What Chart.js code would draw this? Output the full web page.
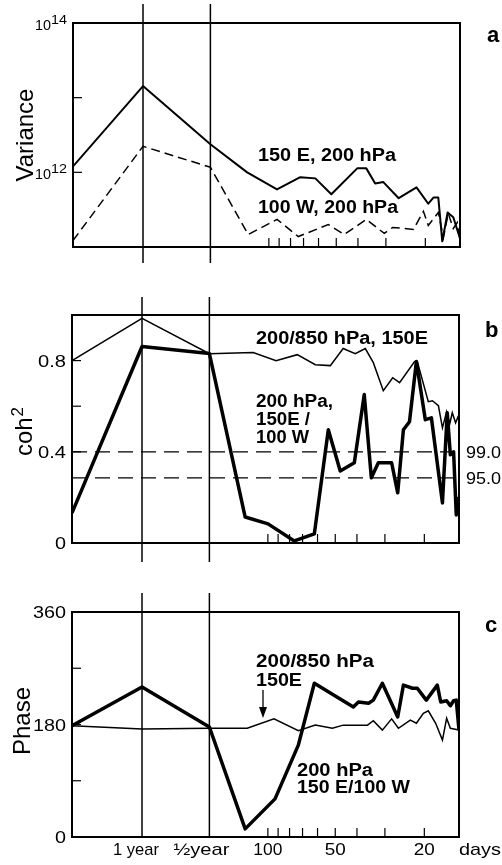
<!DOCTYPE html>
<html>
<head>
<meta charset="utf-8">
<script src="https://cdn.jsdelivr.net/npm/chart.js@4.4.1/dist/chart.umd.min.js"></script>
<style>
html,body{margin:0;padding:0;background:#fff;}
#wrap{position:relative;width:502px;height:865px;overflow:hidden;}
canvas{position:absolute;left:0;}
</style>
</head>
<body>
<div id="wrap">
<canvas id="cA" width="502" height="290" style="top:0"></canvas>
<canvas id="cB" width="502" height="290" style="top:290px"></canvas>
<canvas id="cC" width="502" height="285" style="top:580px"></canvas>
</div>
<script>
/* ===== data: period in days ===== */
// a) variance
const periodVar150E = [750,365,182.5,125,92,72.4,62,52.6,40.3,36.7,33.5,30.8,26.3,21.9,19.4,18.4,17.5,16.8,15.9,15.0,14];
const variance150E  = [1.2e12,1.43e13,2.38e12,1.0e12,5.9e11,8.6e11,8.3e11,5.1e11,1.13e12,1.13e12,7.1e11,7.4e11,4.5e11,6.3e11,3.8e11,4.6e11,4.6e11,1.19e11,2.9e11,2.5e11,1.3e11];
const periodVar100W = [750,365,182.5,123.7,91.9,73.9,54.3,46.1,36.7,30.5,28.0,22.6,20.4,19.4,17.5,16.6,15.8,15.0,14.4,14];
const variance100W  = [1.22e11,2.23e12,1.17e12,1.47e11,2.34e11,1.38e11,2.0e11,1.47e11,2.34e11,1.52e11,1.83e11,1.72e11,3.0e11,1.94e11,2.9e11,1.34e11,2.82e11,1.77e11,2.13e11,1.3e11];

// b) coherence squared
const periodCohVert = [750,365,182.5,116.3,91.9,73.9,61.4,52.6,46.1,40.7,36.7,33.8,30.5,27.7,25.8,22.1,21.5,19.2,18.4,17.3,16.6,15.9,15.4,15.0,14.5,14];
const coh200850     = [0.80,0.985,0.83,0.835,0.80,0.826,0.782,0.778,0.853,0.83,0.853,0.791,0.668,0.725,0.703,0.796,0.796,0.62,0.624,0.602,0.505,0.576,0.523,0.571,0.527,0.563];
const periodCohHor  = [750,365,182.5,126.3,99.8,76.2,62.0,53.7,47.5,41.1,37.1,34.5,32.1,28.0,26.3,24.8,23.3,21.7,19.8,18.6,16.6,15.8,15.3,14.8,14.4,14];
const coh150E100W   = [0.132,0.862,0.831,0.114,0.084,0.009,0.04,0.497,0.316,0.352,0.651,0.286,0.352,0.352,0.22,0.497,0.532,0.796,0.541,0.549,0.176,0.571,0.387,0.40,0.123,0.202];
const sigLevels = [0.4, 0.286];
const sigLabels = ["99.0", "95.0"];

// c) phase (degrees)
const periodPhVert = [750,365,182.5,123.7,93.9,73.1,61.4,51.5,46.1,35.9,33.8,30.8,28.0,26.1,23.1,21.7,20.2,19.2,17.8,16.6,15.9,15.3,14];
const phase200850  = [178,173,174,174,189,170,179,174,179,179,186,171,189,174,187,182,198,202,182,155,190,174,171];
const periodPhHor  = [750,365,182.5,126.3,92.9,73.1,62.0,41.5,39.4,35.5,33.8,30.8,26.3,24.8,22.6,21.5,19.6,17.5,16.9,15.9,15.3,14.8,14.4,14];
const phase150E100W= [178,240,176,13,61,147,246,208,216,214,219,246,192,243,238,238,219,243,216,218,210,218,219,171];

// x axis
const markPeriods = [365, 182.5];               // 1 year, 1/2 year lines
const markLabels  = ["1 year", "\u00bdyear"];
const minorTicks  = [100,90,80,70,60,50,40,30,20];
const dayLabels   = [100, 50, 20];

/* ===== helpers ===== */
const FONT = '"Liberation Sans", Arial, Helvetica, sans-serif';
const pts = (xs, ys) => xs.map((x, i) => ({x, y: ys[i]}));

function txt(ctx, s, x, y, size, bold, align, w) {
 ctx.font = (bold ? "bold " : "") + size + "px " + FONT;
 ctx.textBaseline = "alphabetic";
 const m = ctx.measureText(s).width;
 const sx = w ? w / m : 1;
 let x0 = x;
 if (align === "right") x0 = x - m * sx;
 if (align === "center") x0 = x - m * sx / 2;
 ctx.save();
 ctx.translate(x0, y);
 ctx.scale(sx, 1);
 ctx.textAlign = "left";
 ctx.fillText(s, 0, 0);
 ctx.restore();
}

function seg(ctx, x1, y1, x2, y2) {
 ctx.beginPath(); ctx.moveTo(x1, y1); ctx.lineTo(x2, y2); ctx.stroke();
}

function vTitle(ctx, s, x, cy, sup) {
 ctx.save();
 ctx.translate(x, cy);
 ctx.rotate(-Math.PI / 2);
 ctx.font = "24px " + FONT;
 const w = ctx.measureText(s).width;
 let sw = 0;
 if (sup) { ctx.font = "17px " + FONT; sw = ctx.measureText(sup).width; }
 ctx.font = "24px " + FONT;
 ctx.textAlign = "left"; ctx.textBaseline = "alphabetic";
 ctx.fillText(s, -(w + sw) / 2, 0);
 if (sup) { ctx.font = "17px " + FONT; ctx.fillText(sup, -(w + sw) / 2 + w + 1, -9); }
 ctx.restore();
}

function deco(cfg) {
 return {
  id: "deco",
  afterDatasetsDraw(chart) {
   const {ctx, chartArea: a, scales: {x, y}} = chart;
   ctx.save();
   ctx.strokeStyle = "#000"; ctx.fillStyle = "#000";
   ctx.lineWidth = 2;
   ctx.strokeRect(a.left, a.top, a.right - a.left, a.bottom - a.top);
   ctx.lineWidth = 1.5;
   markPeriods.forEach(p => {
    const px = x.getPixelForValue(p);
    seg(ctx, px, cfg.vTop, px, cfg.vBottom == null ? a.bottom : cfg.vBottom);
   });
   ctx.lineWidth = 1.2;
   minorTicks.forEach(p => {
    const px = x.getPixelForValue(p);
    seg(ctx, px, a.bottom, px, a.bottom - 9);
   });
   cfg.yTicks.forEach(v => {
    const py = y.getPixelForValue(v);
    seg(ctx, a.left, py, a.left + 9, py);
   });
   cfg.draw(ctx, chart, a, x, y);
   ctx.restore();
  }
 };
}

function makeChart(id, pad, yScale, datasets, cfg) {
 return new Chart(document.getElementById(id), {
  type: "line",
  data: {datasets},
  options: {
   responsive: false, animation: false, devicePixelRatio: 1,
   layout: {padding: pad},
   plugins: {legend: {display: false}, tooltip: {enabled: false}},
   elements: {point: {radius: 0}, line: {tension: 0, borderColor: "#000", fill: false}},
   scales: {
    x: {type: "logarithmic", reverse: true, min: 14, max: 750, display: false},
    y: Object.assign({display: false}, yScale)
   }
  },
  plugins: [deco(cfg)]
 });
}

/* ===== a: variance ===== */
makeChart("cA", {left: 73, right: 42, top: 23, bottom: 43},
 {type: "logarithmic", min: 1e11, max: 1e14},
 [
  {data: pts(periodVar150E, variance150E), borderWidth: 2, borderJoinStyle: "round"},
  {data: pts(periodVar100W, variance100W), borderWidth: 1.5, borderDash: [9, 5]}
 ],
 {
  vTop: 4, vBottom: 263, yTicks: [1e12, 1e13],
  draw(ctx, chart, a, x, y) {
   [[1e14, "14"], [1e12, "12"]].forEach(([v, e]) => {
    const py = y.getPixelForValue(v);
    txt(ctx, "10", 51, py + 7, 15, false, "right", 16);
    txt(ctx, e, 51, py + 1, 12, false, "left", 16);
   });
   vTitle(ctx, "Variance", 33, 135);
   txt(ctx, "150 E, 200 hPa", 258, 161, 18, true, "left", 138);
   txt(ctx, "100 W, 200 hPa", 258, 213, 18, true, "left", 140);
   txt(ctx, "a", 487, 42, 22, true, "left");
  }
 });

/* ===== b: coherence ===== */
makeChart("cB", {left: 72, right: 43, top: 25, bottom: 37},
 {type: "linear", min: 0, max: 1},
 [
  {data: pts(periodCohVert, coh200850), borderWidth: 1.5},
  {data: pts(periodCohHor, coh150E100W), borderWidth: 3.5, borderJoinStyle: "round"},
  ...sigLevels.map(s => ({data: [{x: 750, y: s}, {x: 14, y: s}], borderWidth: 1.3, borderDash: [15, 8]}))
 ],
 {
  vTop: 7, vBottom: 272, yTicks: [0.4, 0.6, 0.8],
  draw(ctx, chart, a, x, y) {
   [[0.8, "0.8", 28], [0.4, "0.4", 28], [0, "0", 11]].forEach(([v, s, w]) => {
    txt(ctx, s, 66, y.getPixelForValue(v) + 6, 17, false, "right", w);
   });
   sigLevels.forEach((s, i) => txt(ctx, sigLabels[i], 466, y.getPixelForValue(s) + 6, 17, false, "left", 35));
   vTitle(ctx, "coh", 32, 142, "2");
   txt(ctx, "200/850 hPa, 150E", 256, 54, 18, true, "left", 172);
   txt(ctx, "200 hPa,", 256, 117, 18, true, "left", 77);
   txt(ctx, "150E /", 256, 135, 18, true, "left", 54);
   txt(ctx, "100 W", 256, 153, 18, true, "left", 53);
   txt(ctx, "b", 485, 47, 22, true, "left");
  }
 });

/* ===== c: phase ===== */
makeChart("cC", {left: 72, right: 43, top: 32, bottom: 28},
 {type: "linear", min: 0, max: 360},
 [
  {data: pts(periodPhVert, phase200850), borderWidth: 1.5},
  {data: pts(periodPhHor, phase150E100W), borderWidth: 3.5, borderJoinStyle: "round"}
 ],
 {
  vTop: 13, vBottom: null, yTicks: [90, 180, 270],
  draw(ctx, chart, a, x, y) {
   [[360, "360", 33], [180, "180", 33], [0, "0", 11]].forEach(([v, s, w]) => {
    txt(ctx, s, 66, y.getPixelForValue(v) + 6, 17, false, "right", w);
   });
   vTitle(ctx, "Phase", 30, 141);
   // bottom axis labels
   const base = 275;
   txt(ctx, markLabels[0], x.getPixelForValue(markPeriods[0]) - 6, base, 17, false, "center", 46);
   txt(ctx, markLabels[1], x.getPixelForValue(markPeriods[1]) - 8, base, 17, false, "center", 56);
   dayLabels.forEach(d => txt(ctx, String(d), x.getPixelForValue(d), base, 17, false, "center", d === 100 ? 29 : 21));
   txt(ctx, "days", 459, base, 17, false, "left", 42);
   // annotations
   txt(ctx, "200/850 hPa", 256, 87, 18, true, "left", 118);
   txt(ctx, "150E", 256, 106, 18, true, "left", 46);
   ctx.lineWidth = 1.3;
   seg(ctx, 263, 110, 263, 130);
   ctx.beginPath(); ctx.moveTo(259, 127); ctx.lineTo(267, 127); ctx.lineTo(263, 138); ctx.closePath(); ctx.fill();
   txt(ctx, "200 hPa", 297, 196, 18, true, "left", 76);
   txt(ctx, "150 E/100 W", 297, 213, 18, true, "left", 113);
   txt(ctx, "c", 485, 52, 22, true, "left");
  }
 });
</script>
</body>
</html>
